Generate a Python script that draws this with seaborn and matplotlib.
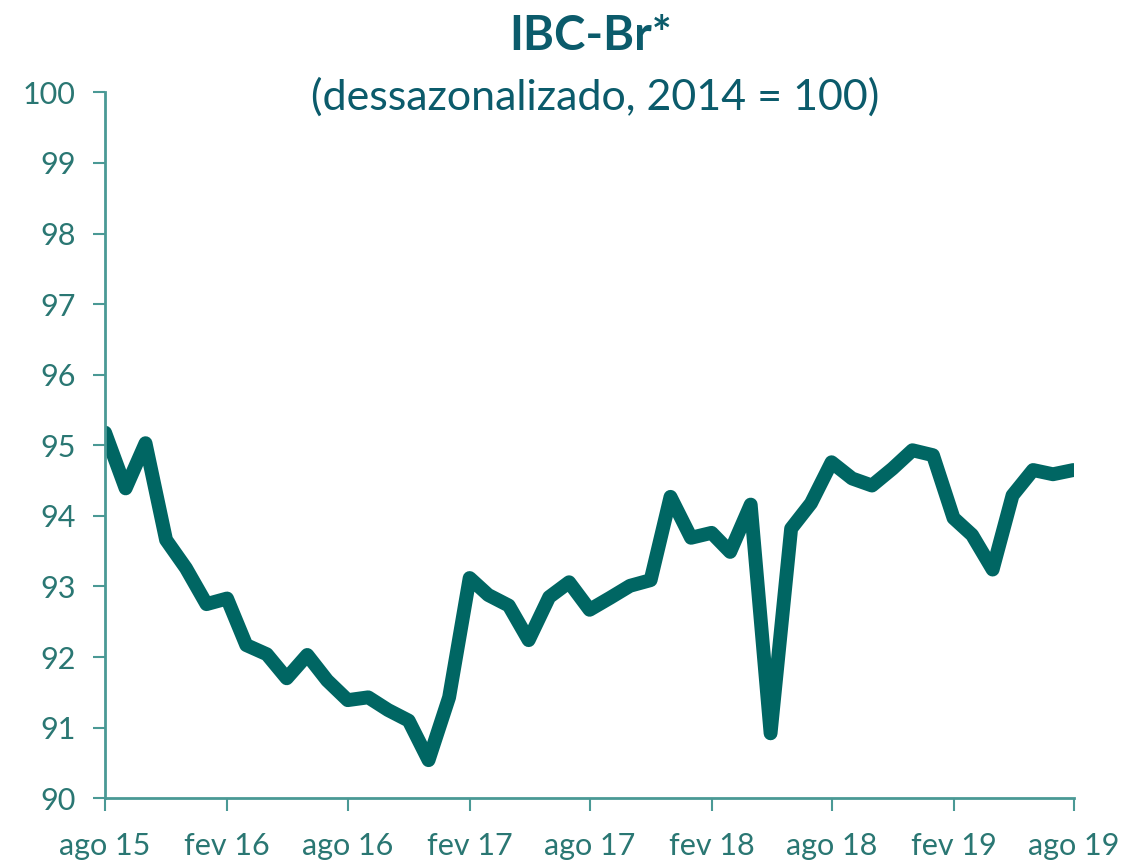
import pandas as pd
import matplotlib.pyplot as plt
import seaborn as sns

# IBC-Br, seasonally adjusted (2014 = 100), monthly ago/15 - ago/19
months = pd.date_range('2015-08-01', '2019-08-01', freq='MS')
ibc_br = [95.18, 94.39, 95.03, 93.66, 93.26, 92.75, 92.83, 92.17, 92.04, 91.70,
          92.03, 91.67, 91.39, 91.43, 91.25, 91.10, 90.54, 91.43, 93.12, 92.88,
          92.73, 92.24, 92.85, 93.06, 92.67, 92.84, 93.01, 93.09, 94.27, 93.69,
          93.76, 93.49, 94.16, 90.92, 93.82, 94.18, 94.76, 94.53, 94.43, 94.67,
          94.93, 94.86, 93.97, 93.73, 93.24, 94.29, 94.65, 94.59, 94.65]
tick_dates = ['2015-08-01', '2016-02-01', '2016-08-01', '2017-02-01', '2017-08-01',
              '2018-02-01', '2018-08-01', '2019-02-01', '2019-08-01']
tick_labels = ['ago 15', 'fev 16', 'ago 16', 'fev 17', 'ago 17',
               'fev 18', 'ago 18', 'fev 19', 'ago 19']
y_ticks = [90, 91, 92, 93, 94, 95, 96, 97, 98, 99, 100]

df = pd.DataFrame({'mes': months, 'ibc': ibc_br})

sns.set_style('white')
plt.rcParams['font.family'] = ['Lato', 'DejaVu Sans']

line_col = '#006663'
axis_col = '#4a9995'
text_col = '#2a7773'
title_col = '#0b5b6b'

fig = plt.figure(figsize=(11.3, 8.63), dpi=100)
ax = fig.add_axes([0.093, 0.075, 0.857, 0.818])
sns.lineplot(data=df, x='mes', y='ibc', color=line_col, linewidth=10, ax=ax)

ax.set_xlim(months[0], months[-1])
ax.set_ylim(90, 100)
ax.set_yticks(y_ticks)
ax.set_yticklabels([str(v) for v in y_ticks])
ax.set_xticks(pd.to_datetime(tick_dates))
ax.set_xticklabels(tick_labels)
ax.set_xlabel('')
ax.set_ylabel('')

for side in ['top', 'right']:
    ax.spines[side].set_visible(False)
for side in ['left', 'bottom']:
    ax.spines[side].set_color(axis_col)
    ax.spines[side].set_linewidth(2)

ax.tick_params(axis='both', direction='out', length=9, width=1.5,
               bottom=True, left=True,
               color=axis_col, labelcolor=text_col, labelsize=22)
ax.tick_params(axis='x', pad=15)
ax.tick_params(axis='y', pad=12)

fig.text(0.523, 0.958, 'IBC-Br*', ha='center', va='center',
         fontsize=34, fontweight='bold', color=title_col)
fig.text(0.527, 0.887, '(dessazonalizado, 2014 = 100)', ha='center', va='center',
         fontsize=31, color=title_col)

plt.savefig('out.png', dpi=100)
